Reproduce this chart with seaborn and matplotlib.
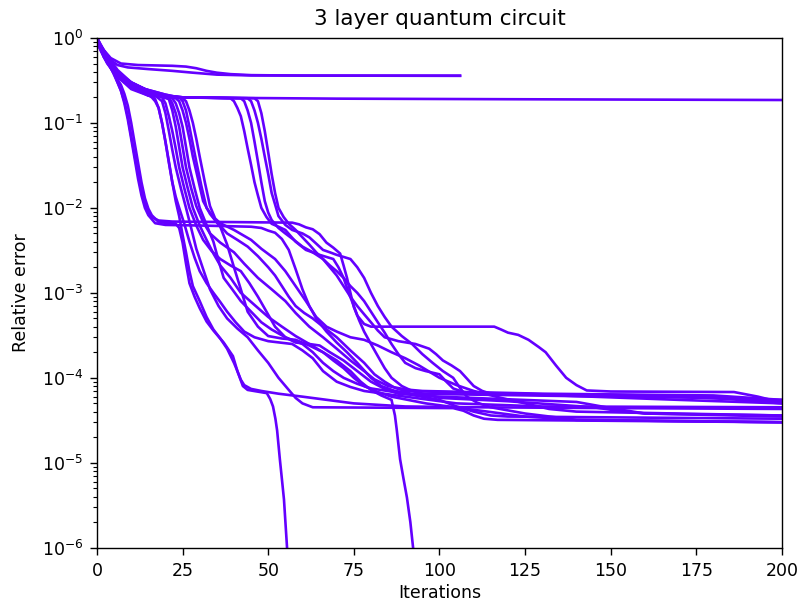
# 3 layer quantum circuit - relative error vs iterations (several runs)
import matplotlib
matplotlib.use('Agg')
import matplotlib.pyplot as plt
import pandas as pd
import seaborn as sns

# runs stuck at a high error
run_s1 = [(0, 1.0), (1, 0.85), (2, 0.72), (4, 0.58), (7, 0.5), (12, 0.48), (22, 0.47), (26, 0.46), (29, 0.44),
          (32, 0.41), (35, 0.39), (39, 0.375), (45, 0.365), (60, 0.36), (106, 0.36)]
run_s2 = [(0, 0.95), (1, 0.82), (2, 0.7), (4, 0.55), (6, 0.48), (9, 0.45), (15, 0.43), (22, 0.41), (28, 0.39),
          (35, 0.37), (45, 0.362), (106, 0.358)]
run_s3 = [(0, 0.9), (1, 0.75), (2, 0.6), (4, 0.45), (6, 0.36), (8, 0.3), (11, 0.26), (14, 0.23), (18, 0.21),
          (25, 0.2), (40, 0.197), (70, 0.193), (120, 0.19), (200, 0.186)]

# early drop, plateau at ~7e-3
run_e1 = [(0, 1.0), (1, 0.82), (2, 0.68), (4, 0.45), (6, 0.3), (7, 0.24), (8, 0.18), (9, 0.12), (10, 0.07),
          (11, 0.042), (12, 0.025), (13, 0.016), (14, 0.011), (15, 0.0088), (16, 0.0078), (18, 0.0071), (22, 0.0069),
          (40, 0.0068), (57, 0.0067), (59, 0.0064), (61, 0.0059), (63, 0.0056), (65, 0.0049), (67, 0.0039),
          (69, 0.0034), (71, 0.0029), (72, 0.0021), (73, 0.0015), (74, 0.001), (75, 0.00068), (76, 0.00054),
          (78, 0.00043), (80, 0.0004), (116, 0.0004), (118, 0.00037), (120, 0.00034), (123, 0.00032), (126, 0.00028),
          (129, 0.00023), (131, 0.0002), (134, 0.00014), (137, 0.0001), (140, 8.2e-5), (143, 7.1e-5), (150, 6.9e-5),
          (186, 6.8e-5), (193, 6e-5), (200, 5.1e-5)]
run_e2 = [(0, 1.0), (1, 0.8), (2, 0.65), (4, 0.45), (5, 0.38), (6, 0.3), (7, 0.24), (8, 0.17), (9, 0.11),
          (10, 0.065), (11, 0.038), (12, 0.022), (13, 0.014), (14, 0.01), (15, 0.0082), (17, 0.0066), (20, 0.0063),
          (30, 0.0062), (45, 0.006), (48, 0.0058), (50, 0.0054), (52, 0.0051), (54, 0.0043), (56, 0.0032),
          (58, 0.0019), (60, 0.0011), (62, 0.0007), (64, 0.0005), (67, 0.00035), (70, 0.00026), (73, 0.0002),
          (76, 0.00015), (80, 0.0001), (83, 8e-5), (87, 7e-5), (92, 6.5e-5), (150, 6e-5), (180, 5.8e-5),
          (200, 5.5e-5)]
run_e3 = [(0, 0.95), (1, 0.78), (2, 0.6), (4, 0.44), (5, 0.38), (7, 0.28), (8, 0.22), (9, 0.16), (10, 0.1),
          (11, 0.058), (12, 0.034), (13, 0.02), (14, 0.013), (15, 0.0098), (16, 0.0082), (18, 0.0068),
          (23, 0.0065), (24, 0.0058), (25, 0.0039), (26, 0.0022), (27, 0.0013), (28.5, 0.0009), (30, 0.00066),
          (32, 0.00046), (34, 0.00036), (37, 0.00026), (39.7, 0.00018), (41, 0.00012), (42.6, 8e-5), (44, 7.2e-5),
          (49.6, 6.6e-5), (50.6, 5.6e-5), (51.4, 4.6e-5), (52.1, 3.3e-5), (52.6, 2.4e-5), (53.4, 1.1e-5),
          (54, 6.4e-6), (54.6, 3.7e-6), (55.5, 1e-6), (56, 5e-7)]

# main drop around iteration 20-28
run_m1 = [(0, 1.0), (1, 0.8), (3, 0.55), (6, 0.38), (10, 0.3), (14, 0.25), (16, 0.22), (17, 0.19), (18, 0.15),
          (19, 0.1), (20, 0.06), (21, 0.034), (22, 0.02), (23, 0.012), (24, 0.008), (25, 0.0048), (26, 0.003),
          (27, 0.0018), (28, 0.0012), (30, 0.0008), (32, 0.00052), (34, 0.00037), (36, 0.00029), (38, 0.00022),
          (40, 0.00015), (41, 0.00012), (42, 9.5e-5), (43, 8.2e-5), (45, 7.4e-5), (48, 7e-5), (53, 6.5e-5),
          (60, 6e-5), (75, 5e-5), (90, 4.6e-5), (110, 4.5e-5), (150, 4.4e-5), (200, 4.3e-5)]
run_m2 = [(0, 0.9), (1, 0.72), (3, 0.5), (6, 0.35), (10, 0.27), (14, 0.23), (17, 0.21), (19, 0.18), (20, 0.13),
          (21, 0.08), (22, 0.048), (23, 0.03), (24.5, 0.017), (26, 0.01), (27.5, 0.0058), (29, 0.0033),
          (31, 0.0019), (33, 0.0011), (35.5, 0.0007), (38, 0.0005), (41, 0.00038), (44, 0.0003), (47, 0.00021),
          (50, 0.00015), (53, 0.0001), (56, 7.2e-5), (58, 5.8e-5), (60, 5e-5), (63, 4.5e-5), (104, 4.4e-5),
          (107, 4.1e-5), (110, 3.6e-5), (113, 3.3e-5), (117, 3.2e-5), (200, 3.0e-5)]
run_m3 = [(0, 1.0), (1, 0.82), (3, 0.6), (6, 0.4), (10, 0.28), (14, 0.24), (18, 0.21), (21, 0.19), (22, 0.14),
          (23, 0.09), (24, 0.052), (25, 0.03), (26.5, 0.017), (28, 0.01), (30, 0.0062), (32, 0.0042), (34, 0.0029),
          (36, 0.0021), (39, 0.0015), (42, 0.001), (46, 0.00072), (50, 0.00052), (54, 0.0004), (58, 0.00031),
          (62, 0.00025), (66, 0.0002), (70, 0.00016), (74, 0.00012), (77, 9e-5), (80, 7.2e-5), (83, 6.2e-5),
          (86, 5.5e-5), (87, 3.6e-5), (87.5, 2.5e-5), (88.5, 1.1e-5), (89.5, 6.5e-6), (90.5, 3.9e-6), (91.5, 2e-6),
          (92.3, 1e-6), (93, 5e-7)]
run_m4 = [(0, 0.97), (1, 0.8), (3, 0.58), (6, 0.4), (10, 0.3), (14, 0.25), (18, 0.215), (21, 0.2), (22, 0.17),
          (23, 0.13), (24, 0.09), (25, 0.052), (26, 0.03), (27.5, 0.017), (29, 0.0105), (31, 0.0068), (33, 0.005),
          (36, 0.0039), (40, 0.003), (43, 0.0022), (47, 0.0015), (51, 0.0011), (55, 0.0008), (58, 0.00058),
          (62, 0.0004), (66, 0.0003), (70, 0.00022), (74, 0.00016), (78, 0.00012), (81, 9.6e-5), (85, 8e-5),
          (90, 7.3e-5), (95, 7e-5), (130, 6.5e-5), (180, 6.2e-5), (200, 5.5e-5)]
run_m5 = [(0, 1.0), (1, 0.82), (3, 0.62), (6, 0.42), (10, 0.3), (14, 0.25), (19, 0.21), (22, 0.195), (23, 0.17),
          (24, 0.13), (25, 0.09), (26, 0.052), (27, 0.03), (28.5, 0.017), (30, 0.01), (32, 0.0063), (34, 0.004),
          (35.5, 0.0024), (37, 0.0015), (39.5, 0.0011), (42, 0.0008), (45, 0.0006), (48, 0.00045), (51, 0.00037),
          (55, 0.0003), (60, 0.00025), (63, 0.0002), (66, 0.00015), (69, 0.00012), (72, 0.0001), (76, 8.5e-5),
          (80, 7.5e-5), (90, 6.5e-5), (100, 5.5e-5), (105, 4.6e-5), (110, 4e-5), (115, 3.6e-5), (120, 3.5e-5),
          (200, 3.3e-5)]
run_m6 = [(0, 0.93), (1, 0.75), (3, 0.55), (6, 0.37), (10, 0.28), (14, 0.24), (20, 0.21), (23, 0.195),
          (24, 0.18), (25, 0.14), (26, 0.1), (27, 0.065), (28, 0.04), (29.5, 0.022), (31, 0.012), (33, 0.0085),
          (36, 0.006), (38, 0.0037), (40, 0.002), (42, 0.0011), (44, 0.0006), (47, 0.0004), (50, 0.00031),
          (54, 0.00029), (58, 0.00028), (62, 0.00024), (66, 0.0002), (69, 0.00016), (72, 0.00013), (75, 0.0001),
          (78, 8e-5), (82, 6.8e-5), (86, 6e-5), (96, 5e-5), (110, 4.2e-5), (125, 3.5e-5), (140, 3.2e-5),
          (200, 3.0e-5)]
run_m7 = [(0, 1.0), (1, 0.82), (3, 0.6), (6, 0.4), (10, 0.29), (14, 0.25), (20, 0.215), (24, 0.2),
          (25, 0.18), (26, 0.14), (27, 0.09), (28, 0.056), (29, 0.035), (30.5, 0.018), (32, 0.01), (35, 0.0068),
          (38, 0.005), (41, 0.0042), (44, 0.0035), (47, 0.0027), (50, 0.002), (52, 0.0016), (54, 0.0012),
          (56, 0.0009), (58, 0.0007), (60.5, 0.00058), (63, 0.0005), (66, 0.0004), (70, 0.0003), (74, 0.00021),
          (78, 0.00015), (81, 0.00011), (84, 9e-5), (87, 7.6e-5), (90, 7e-5), (120, 6.5e-5), (170, 6e-5),
          (185, 5.6e-5), (200, 5e-5)]
run_m8 = [(0, 0.96), (1, 0.78), (3, 0.57), (6, 0.39), (10, 0.29), (14, 0.25), (20, 0.215), (25, 0.195),
          (26, 0.18), (27, 0.14), (28, 0.1), (29, 0.065), (30, 0.04), (31.5, 0.02), (33, 0.0105), (34.5, 0.0075),
          (36, 0.0066), (40, 0.0055), (45, 0.0042), (48, 0.0033), (52, 0.0025), (55, 0.0018), (58, 0.0012),
          (61, 0.0008), (64, 0.00052), (67, 0.0004), (70, 0.00035), (74, 0.0003), (78, 0.00028), (82, 0.00024),
          (86, 0.0002), (90, 0.00017), (94, 0.00014), (100, 0.0001), (105, 8.2e-5), (110, 7e-5), (118, 5.8e-5),
          (125, 5e-5), (132, 4.3e-5), (140, 4e-5), (200, 3.6e-5)]
run_m9 = [(0, 1.0), (1, 0.8), (3, 0.6), (6, 0.4), (10, 0.29), (14, 0.24), (17, 0.215), (19, 0.2), (20, 0.17),
          (21, 0.12), (22, 0.08), (23, 0.05), (24, 0.03), (25.5, 0.017), (27, 0.01), (29, 0.0062), (31, 0.0042),
          (33.5, 0.0031), (36, 0.0025), (39, 0.0021), (42, 0.0018), (44.5, 0.0013), (47, 0.0009), (49.5, 0.0006),
          (52, 0.0004), (55, 0.0003), (58, 0.00026), (62, 0.00025), (65, 0.00024), (68, 0.0002), (72, 0.00016),
          (76, 0.00012), (80, 9e-5), (84, 7.4e-5), (88, 6.5e-5), (100, 6e-5), (140, 5.2e-5), (150, 4.4e-5),
          (160, 3.8e-5), (200, 3.6e-5)]
run_m10 = [(0, 0.92), (1, 0.74), (3, 0.52), (6, 0.36), (10, 0.27), (13, 0.235), (16, 0.2), (17, 0.18),
           (18, 0.15), (19, 0.1), (20, 0.06), (21, 0.035), (22, 0.02), (23, 0.0135), (24, 0.01), (25.5, 0.0065),
           (27, 0.004), (28.5, 0.0026), (30, 0.0018), (32, 0.0013), (34, 0.001), (36, 0.00078), (38, 0.0006),
           (40.5, 0.00045), (43, 0.00035), (46, 0.0003), (50, 0.00027), (57, 0.00025), (60, 0.00021),
           (63, 0.00017), (66, 0.00012), (70, 9e-5), (74, 7.8e-5), (78, 7e-5), (90, 6e-5), (105, 5e-5),
           (130, 4.6e-5), (200, 4.5e-5)]

# late drop around iteration 40-48
run_l1 = [(0, 1.0), (1, 0.8), (3, 0.6), (6, 0.35), (10, 0.25), (15, 0.21), (25, 0.2), (39, 0.195), (40, 0.18),
          (41, 0.15), (42, 0.12), (43, 0.08), (44, 0.05), (45, 0.032), (46, 0.02), (47, 0.014), (48, 0.01),
          (49.5, 0.0078), (51, 0.0065), (53, 0.006), (55, 0.0055), (58, 0.004), (61, 0.0032), (65, 0.0028),
          (69, 0.0025), (70.5, 0.002), (72, 0.0015), (73.5, 0.001), (75, 0.0007), (76.5, 0.00048), (78, 0.00035),
          (80, 0.00025), (82, 0.00018), (84, 0.00013), (86, 0.0001), (89, 8e-5), (92, 7e-5), (100, 5.8e-5),
          (120, 5.3e-5), (145, 4.5e-5), (152, 4.1e-5), (160, 3.8e-5), (200, 3.5e-5)]
run_l2 = [(0, 0.98), (1, 0.78), (3, 0.58), (6, 0.36), (10, 0.26), (15, 0.215), (25, 0.2), (42, 0.195),
          (43, 0.18), (44, 0.14), (45, 0.1), (46, 0.06), (47, 0.035), (48, 0.02), (49, 0.012), (50, 0.0088),
          (51, 0.0072), (53, 0.0058), (55, 0.005), (57.5, 0.0042), (60, 0.0035), (63, 0.003), (66, 0.0025),
          (68, 0.0021), (70, 0.0018), (72, 0.0015), (74, 0.0012), (76, 0.001), (78, 0.0008), (80, 0.0006),
          (82, 0.00045), (84, 0.00034), (86, 0.00025), (88, 0.00019), (90, 0.00015), (93, 0.00013),
          (96, 0.00012), (100, 0.00011), (102, 9e-5), (104, 7.5e-5), (107, 6.8e-5), (110, 6.5e-5), (150, 6.3e-5),
          (180, 6e-5), (190, 5.6e-5), (200, 5.3e-5)]
run_l3 = [(0, 0.94), (1, 0.76), (3, 0.56), (6, 0.36), (10, 0.26), (15, 0.21), (25, 0.2), (44, 0.195),
          (45, 0.18), (46, 0.14), (47, 0.1), (48, 0.065), (49, 0.04), (50, 0.025), (51, 0.015), (52, 0.011),
          (53, 0.008), (55, 0.0063), (57, 0.0055), (60, 0.005), (62, 0.0045), (64, 0.0038), (66, 0.0032),
          (68, 0.003), (70, 0.0028), (74, 0.0025), (76, 0.002), (78, 0.0015), (80, 0.001), (82, 0.0007),
          (84, 0.00052), (86, 0.0004), (89, 0.00031), (92, 0.00025), (95, 0.00019), (98, 0.00015), (101, 0.00012),
          (104, 0.0001), (106, 7.6e-5), (108, 6e-5), (111, 5.1e-5), (115, 4.5e-5), (125, 3.8e-5), (140, 3.2e-5),
          (200, 3.0e-5)]
run_l4 = [(0, 1.0), (1, 0.82), (3, 0.62), (6, 0.37), (10, 0.26), (15, 0.215), (25, 0.2), (46, 0.195),
          (47, 0.18), (48, 0.13), (49, 0.08), (50, 0.045), (51, 0.025), (52, 0.015), (53, 0.01), (54.5, 0.0078),
          (56, 0.0065), (58, 0.0055), (60, 0.0045), (62, 0.0037), (64, 0.003), (66, 0.0025), (68, 0.002),
          (70, 0.0016), (72, 0.0012), (74, 0.0009), (76, 0.0007), (78, 0.00056), (80, 0.00045), (82, 0.00036),
          (84, 0.0003), (88, 0.00027), (93, 0.00025), (97, 0.00022), (99, 0.00019), (101, 0.00016),
          (103.5, 0.00014), (106, 0.00012), (108, 9.8e-5), (110, 8e-5), (112.5, 7e-5), (115, 6.5e-5), (130, 6.3e-5),
          (170, 5.5e-5), (200, 5e-5)]

runs = [run_s1, run_s2, run_s3, run_e1, run_e2, run_e3, run_m1, run_m2, run_m3, run_m4, run_m5,
        run_m6, run_m7, run_m8, run_m9, run_m10, run_l1, run_l2, run_l3, run_l4]

rows = []
for i, run in enumerate(runs):
    for it, err in run:
        rows.append({'run': i, 'iteration': it, 'error': err})
df = pd.DataFrame(rows)

plt.rcParams['font.size'] = 12
fig = plt.figure(figsize=(8.04, 6.12), dpi=100)
ax = fig.add_axes([0.1206, 0.105, 0.852, 0.833])

sns.lineplot(data=df, x='iteration', y='error', units='run', estimator=None,
             color='#6400ff', linewidth=1.9, legend=False, ax=ax)

ax.set_yscale('log')
ax.set_xlim(0, 200)
ax.set_ylim(1e-6, 1)
ax.set_xlabel('Iterations', fontsize=12.5, labelpad=3)
ax.set_ylabel('Relative error', fontsize=12.5, labelpad=8)
ax.set_title('3 layer quantum circuit', fontsize=15.5, pad=9)
ax.tick_params(which='major', length=5, width=1.0, pad=5, labelsize=12.5)
ax.tick_params(which='minor', length=2.8, width=0.8)
for s in ax.spines.values():
    s.set_linewidth(1.0)

fig.savefig('out.png', dpi=100)
